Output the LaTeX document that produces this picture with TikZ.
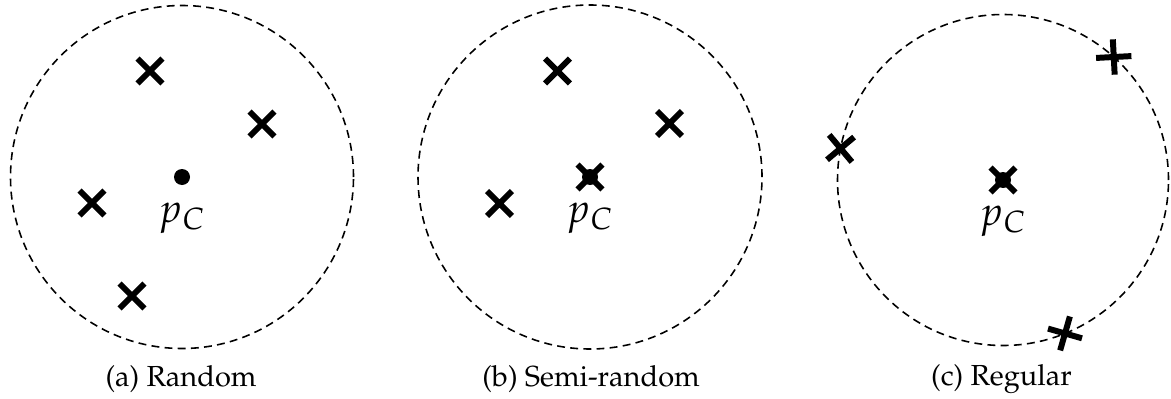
\documentclass[tikz,border=0pt]{standalone}
\usepackage[T1]{fontenc}
\usepackage{mathpazo}
\usepackage{tikz}
\usetikzlibrary{shapes.misc,positioning}
\tikzset{
  ring/.style={dash pattern=on 4.5pt off 3pt, line width=0.9pt},
  pt/.style={cross out, draw, line width=3.4pt, minimum size=0.38cm, inner sep=0pt},
  ctr/.style={circle, fill, minimum size=0.32cm, inner sep=0pt},
  lbl/.style={font=\fontsize{23}{27}\selectfont},
  capt/.style={font=\fontsize{16.5}{19}\selectfont},
}
\begin{document}
\begin{tikzpicture}
  \useasboundingbox (0,0) rectangle (23.42,7.96);
  % random: samples scattered inside the disc
  \begin{scope}[shift={(3.64,4.42)}]
    \draw[ring] (0,0) circle (3.43);
    \node[ctr] (c1) at (0,0) {};
    \node[pt] (a1) at (-0.64,2.12) {};
    \node[pt] (a2) at (1.60,1.06) {};
    \node[pt] (a3) at (-1.80,-0.52) {};
    \node[pt] (a4) at (-1.00,-2.38) {};
    \node[lbl, below=0.22cm of c1] (p1) {$p_C$};
    \node[capt] (t1) at (-0.02,-4.04) {(a) Random};
  \end{scope}
  % semi-random: one sample fixed at the centre
  \begin{scope}[shift={(11.80,4.42)}]
    \draw[ring] (0,0) circle (3.44);
    \node[ctr] (c2) at (0,0) {};
    \node[pt] (s0) at (0,0) {};
    \node[pt] (s1) at (-0.65,2.12) {};
    \node[pt] (s2) at (1.59,1.07) {};
    \node[pt] (s3) at (-1.81,-0.53) {};
    \node[lbl, below=0.22cm of c2] (p2) {$p_C$};
    \node[capt] (t2) at (0.02,-4.04) {(b) Semi-random};
  \end{scope}
  % regular: centre plus three points on the rim
  \begin{scope}[shift={(20.06,4.36)}]
    \draw[ring] (0,0) circle (3.31);
    \node[ctr] (c3) at (0,0) {};
    \node[pt] (r0) at (0,0) {};
    \node[pt, rotate=48] (r1) at (48:3.31) {};
    \node[pt, rotate=175] (r2) at (169:3.31) {};
    \node[pt, rotate=299] (r3) at (292:3.31) {};
    \node[lbl, below=0.22cm of c3] (p3) {$p_C$};
    \node[capt] (t3) at (-0.03,-3.98) {(c) Regular};
  \end{scope}
\end{tikzpicture}
\end{document}
